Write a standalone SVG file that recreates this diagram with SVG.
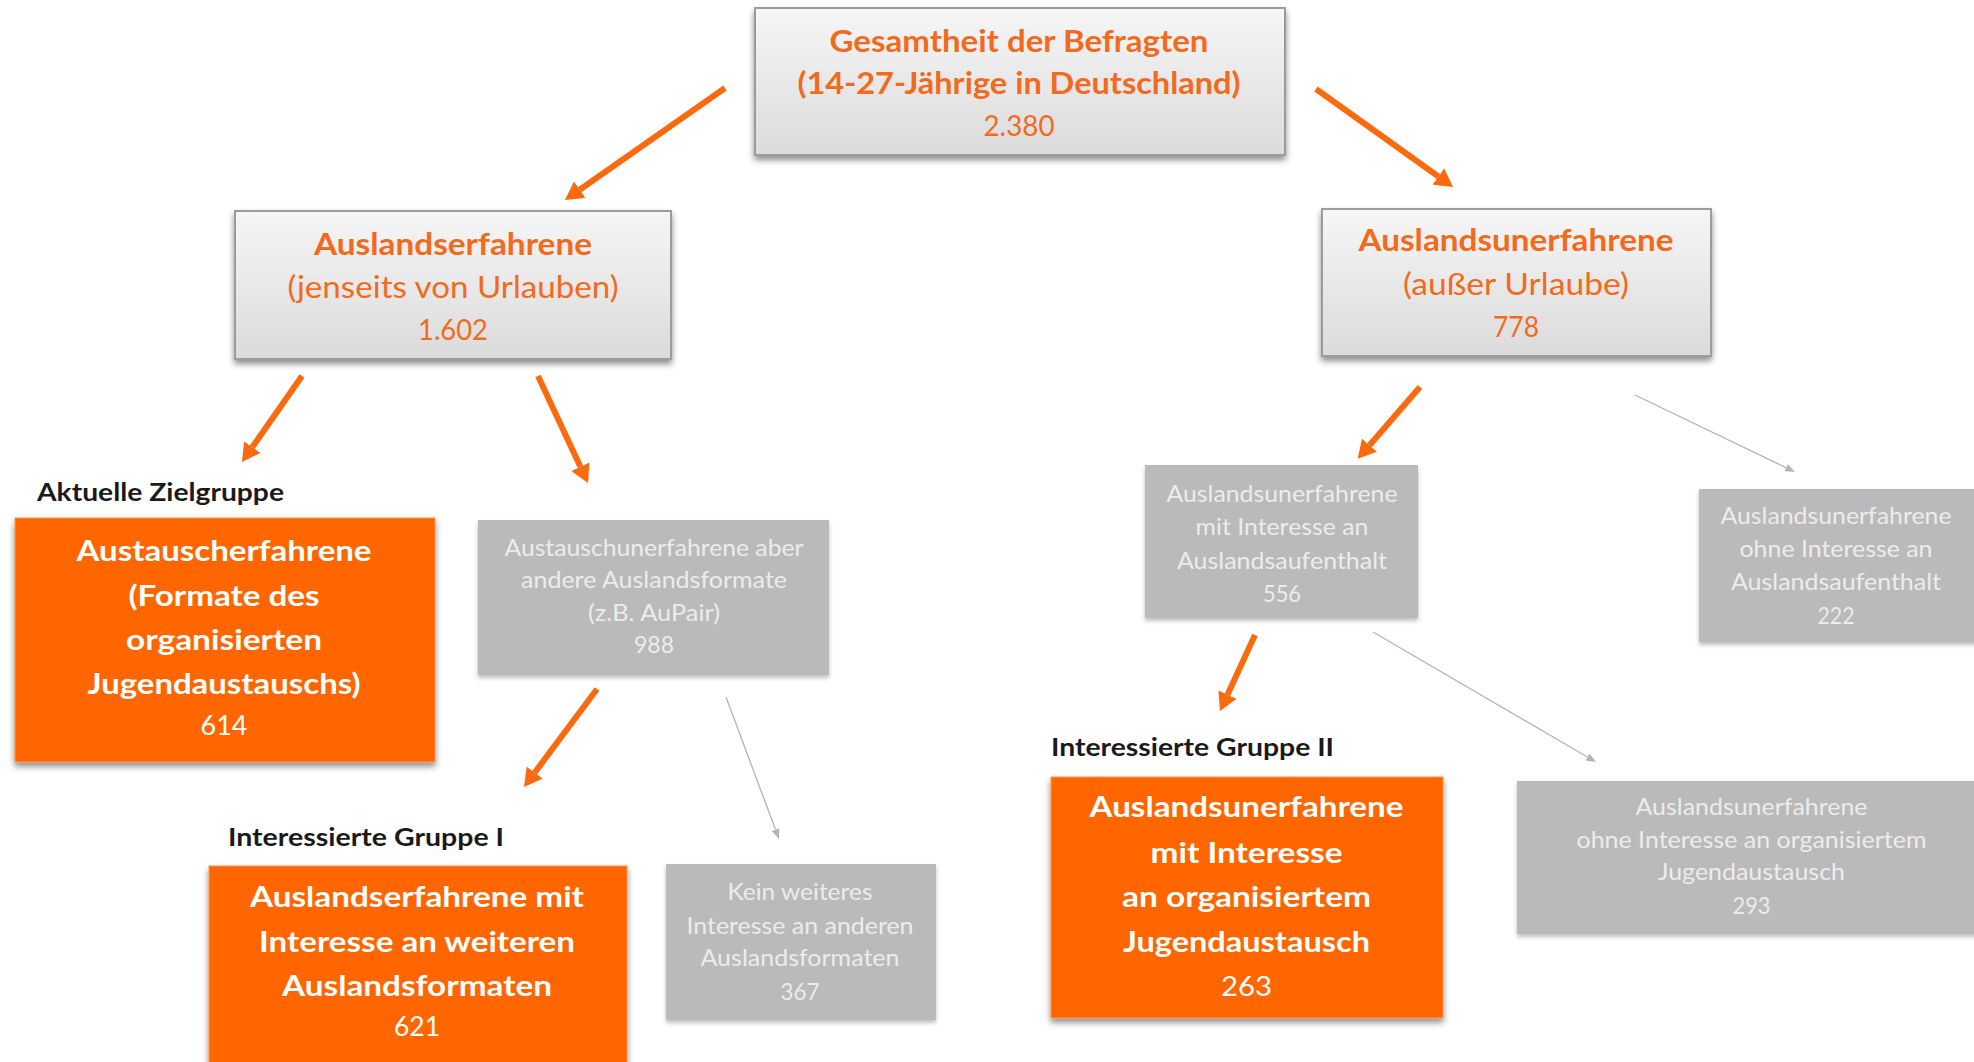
<svg xmlns="http://www.w3.org/2000/svg" width="1974" height="1062" viewBox="0 0 1974 1062">
<defs>
<style>
text{font-family:Lato,'Open Sans','Liberation Sans',sans-serif}
.tb{font-weight:700;fill:#f36a1c;font-size:31px;text-anchor:middle}
.tr{font-weight:400;fill:#f36a1c;font-size:31px;text-anchor:middle}
.tn{font-weight:400;fill:#f36a1c;font-size:28px;text-anchor:middle}
.lab{font-weight:700;fill:#1a1a1a;font-size:24px}
.ob{font-weight:700;fill:#ffffff;font-size:28px;text-anchor:middle}
.on{font-weight:400;fill:#ffffff;font-size:27px;text-anchor:middle}
.gt{font-weight:400;fill:#ececec;font-size:24px;text-anchor:middle}
.gbox{fill:url(#gg);stroke:#9c9c9c;stroke-width:2}
.obox{fill:#ff6600;stroke:#f9954a;stroke-width:1}
.grey{fill:#bababa}
.oa{stroke:#fb6a0e;stroke-width:6;fill:none}
.ga{stroke:#b4b4b4;stroke-width:1.3;fill:none}
</style>
<linearGradient id="gg" x1="0" y1="0" x2="0" y2="1">
<stop offset="0" stop-color="#f6f6f6"/>
<stop offset="1" stop-color="#dbdbdb"/>
</linearGradient>
<filter id="sh" x="-10%" y="-10%" width="120%" height="130%">
<feDropShadow dx="0" dy="4" stdDeviation="3" flood-color="#000" flood-opacity="0.45"/>
</filter>
<filter id="sh2" x="-10%" y="-10%" width="120%" height="130%">
<feDropShadow dx="0" dy="3" stdDeviation="2" flood-color="#000" flood-opacity="0.25"/>
</filter>
<marker id="oh" markerUnits="userSpaceOnUse" markerWidth="18" markerHeight="20" refX="0" refY="10" orient="auto">
<path d="M0,0 L18,10 L0,20 z" fill="#fb6a0e"/>
</marker>
<marker id="gh" markerUnits="userSpaceOnUse" markerWidth="10" markerHeight="8" refX="0" refY="4" orient="auto">
<path d="M0,0 L10,4 L0,8 z" fill="#b4b4b4"/>
</marker>
</defs>
<rect width="1974" height="1062" fill="#ffffff"/>

<g id="connectors">
<line class="oa" x1="725" y1="88" x2="579.7" y2="189.7" marker-end="url(#oh)"/>
<line class="oa" x1="1316" y1="89" x2="1438.4" y2="176.5" marker-end="url(#oh)"/>
<line class="oa" x1="302" y1="376" x2="252.3" y2="447.2" marker-end="url(#oh)"/>
<line class="oa" x1="538" y1="376" x2="580.4" y2="466.7" marker-end="url(#oh)"/>
<line class="oa" x1="597" y1="689" x2="534.7" y2="772.6" marker-end="url(#oh)"/>
<line class="oa" x1="1420" y1="387" x2="1369.5" y2="445.2" marker-end="url(#oh)"/>
<line class="oa" x1="1255" y1="635" x2="1227.5" y2="694.7" marker-end="url(#oh)"/>
<line class="ga" x1="726" y1="697" x2="775.5" y2="829.6" marker-end="url(#gh)"/>
<line class="ga" x1="1635" y1="395" x2="1786" y2="467.7" marker-end="url(#gh)"/>
<line class="ga" x1="1373" y1="632" x2="1587.4" y2="757" marker-end="url(#gh)"/>
</g>

<g id="n-gesamt">
<rect class="gbox" x="755" y="8" width="530" height="147" filter="url(#sh)"/>
<text class="tb" x="1019" y="52" textLength="379" lengthAdjust="spacingAndGlyphs">Gesamtheit der Befragten</text>
<text class="tb" x="1019" y="94" textLength="443" lengthAdjust="spacingAndGlyphs">(14-27-Jährige in Deutschland)</text>
<text class="tn" x="1019" y="136" textLength="71" lengthAdjust="spacingAndGlyphs">2.380</text>
</g>

<g id="n-erfahrene">
<rect class="gbox" x="235" y="211" width="436" height="148" filter="url(#sh)"/>
<text class="tb" x="453" y="255" textLength="278" lengthAdjust="spacingAndGlyphs">Auslandserfahrene</text>
<text class="tr" x="453" y="298" textLength="331" lengthAdjust="spacingAndGlyphs">(jenseits von Urlauben)</text>
<text class="tn" x="453" y="340" textLength="70" lengthAdjust="spacingAndGlyphs">1.602</text>
</g>

<g id="n-unerfahrene">
<rect class="gbox" x="1322" y="209" width="389" height="147" filter="url(#sh)"/>
<text class="tb" x="1516" y="251" textLength="315" lengthAdjust="spacingAndGlyphs">Auslandsunerfahrene</text>
<text class="tr" x="1516" y="295" textLength="226" lengthAdjust="spacingAndGlyphs">(außer Urlaube)</text>
<text class="tn" x="1516" y="337" textLength="46" lengthAdjust="spacingAndGlyphs">778</text>
</g>

<g id="n-austauscherfahrene">
<text class="lab" x="37" y="501" textLength="247" lengthAdjust="spacingAndGlyphs">Aktuelle Zielgruppe</text>
<rect class="obox" x="15" y="518" width="420" height="244" filter="url(#sh)"/>
<text class="ob" x="224" y="561" textLength="295" lengthAdjust="spacingAndGlyphs">Austauscherfahrene</text>
<text class="ob" x="224" y="606" textLength="191" lengthAdjust="spacingAndGlyphs">(Formate des</text>
<text class="ob" x="224" y="650" textLength="196" lengthAdjust="spacingAndGlyphs">organisierten</text>
<text class="ob" x="224" y="694" textLength="273" lengthAdjust="spacingAndGlyphs">Jugendaustauschs)</text>
<text class="on" x="224" y="735" textLength="47" lengthAdjust="spacingAndGlyphs">614</text>
</g>

<g id="n-austauschunerfahrene">
<rect class="grey" x="478" y="520" width="351" height="155" filter="url(#sh2)"/>
<text class="gt" x="654" y="556" textLength="299" lengthAdjust="spacingAndGlyphs">Austauschunerfahrene aber</text>
<text class="gt" x="654" y="588" textLength="266" lengthAdjust="spacingAndGlyphs">andere Auslandsformate</text>
<text class="gt" x="654" y="621" textLength="132" lengthAdjust="spacingAndGlyphs">(z.B. AuPair)</text>
<text class="gt" x="654" y="653" textLength="40" lengthAdjust="spacingAndGlyphs">988</text>
</g>

<g id="n-gruppe1">
<text class="lab" x="228" y="846" textLength="276" lengthAdjust="spacingAndGlyphs">Interessierte Gruppe I</text>
<rect class="obox" x="209" y="866" width="418" height="210" filter="url(#sh)"/>
<text class="ob" x="417" y="907" textLength="334" lengthAdjust="spacingAndGlyphs">Auslandserfahrene mit</text>
<text class="ob" x="417" y="952" textLength="316" lengthAdjust="spacingAndGlyphs">Interesse an weiteren</text>
<text class="ob" x="417" y="996" textLength="270" lengthAdjust="spacingAndGlyphs">Auslandsformaten</text>
<text class="on" x="417" y="1036" textLength="46" lengthAdjust="spacingAndGlyphs">621</text>
</g>

<g id="n-kein">
<rect class="grey" x="666" y="864" width="270" height="156" filter="url(#sh2)"/>
<text class="gt" x="800" y="900" textLength="145" lengthAdjust="spacingAndGlyphs">Kein weiteres</text>
<text class="gt" x="800" y="934" textLength="227" lengthAdjust="spacingAndGlyphs">Interesse an anderen</text>
<text class="gt" x="800" y="966" textLength="199" lengthAdjust="spacingAndGlyphs">Auslandsformaten</text>
<text class="gt" x="800" y="1000" textLength="39" lengthAdjust="spacingAndGlyphs">367</text>
</g>

<g id="n-mitinteresse">
<rect class="grey" x="1145" y="465" width="273" height="153" filter="url(#sh2)"/>
<text class="gt" x="1282" y="502" textLength="231" lengthAdjust="spacingAndGlyphs">Auslandsunerfahrene</text>
<text class="gt" x="1282" y="535" textLength="173" lengthAdjust="spacingAndGlyphs">mit Interesse an</text>
<text class="gt" x="1282" y="569" textLength="210" lengthAdjust="spacingAndGlyphs">Auslandsaufenthalt</text>
<text class="gt" x="1282" y="602" textLength="38" lengthAdjust="spacingAndGlyphs">556</text>
</g>

<g id="n-ohneinteresse">
<rect class="grey" x="1699" y="489" width="280" height="153" filter="url(#sh2)"/>
<text class="gt" x="1836" y="524" textLength="231" lengthAdjust="spacingAndGlyphs">Auslandsunerfahrene</text>
<text class="gt" x="1836" y="557" textLength="193" lengthAdjust="spacingAndGlyphs">ohne Interesse an</text>
<text class="gt" x="1836" y="590" textLength="210" lengthAdjust="spacingAndGlyphs">Auslandsaufenthalt</text>
<text class="gt" x="1836" y="624" textLength="37" lengthAdjust="spacingAndGlyphs">222</text>
</g>

<g id="n-gruppe2">
<text class="lab" x="1051" y="756" textLength="283" lengthAdjust="spacingAndGlyphs">Interessierte Gruppe II</text>
<rect class="obox" x="1051" y="777" width="392" height="241" filter="url(#sh)"/>
<text class="ob" x="1246.5" y="817" textLength="314" lengthAdjust="spacingAndGlyphs">Auslandsunerfahrene</text>
<text class="ob" x="1246.5" y="863" textLength="192" lengthAdjust="spacingAndGlyphs">mit Interesse</text>
<text class="ob" x="1246.5" y="907" textLength="249" lengthAdjust="spacingAndGlyphs">an organisiertem</text>
<text class="ob" x="1246.5" y="952" textLength="247" lengthAdjust="spacingAndGlyphs">Jugendaustausch</text>
<text class="on" x="1246.5" y="996" textLength="51" lengthAdjust="spacingAndGlyphs">263</text>
</g>

<g id="n-ohneorg">
<rect class="grey" x="1517" y="781" width="462" height="153" filter="url(#sh2)"/>
<text class="gt" x="1751.5" y="815" textLength="232" lengthAdjust="spacingAndGlyphs">Auslandsunerfahrene</text>
<text class="gt" x="1751.5" y="848" textLength="350" lengthAdjust="spacingAndGlyphs">ohne Interesse an organisiertem</text>
<text class="gt" x="1751.5" y="880" textLength="187" lengthAdjust="spacingAndGlyphs">Jugendaustausch</text>
<text class="gt" x="1751.5" y="914" textLength="38" lengthAdjust="spacingAndGlyphs">293</text>
</g>
</svg>
